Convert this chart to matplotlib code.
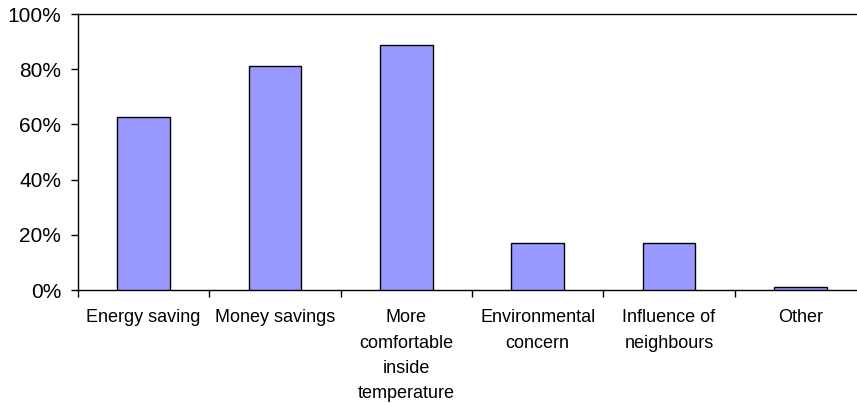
import matplotlib
matplotlib.use("Agg")
import matplotlib.pyplot as plt
import numpy as np
from matplotlib.ticker import PercentFormatter, FixedLocator

categories = ["Energy saving", "Money savings", "More\ncomfortable\ninside\ntemperature",
              "Environmental\nconcern", "Influence of\nneighbours", "Other"]
values = [0.626, 0.813, 0.888, 0.171, 0.171, 0.011]
yticks = [0, 0.2, 0.4, 0.6, 0.8, 1.0]

plt.rcParams['font.family'] = ['Liberation Sans', 'DejaVu Sans']

fig = plt.figure(figsize=(8.57, 4.03), dpi=100)
ax = fig.add_axes([78/857, 1-290/403, 788/857, 276/403])

x = np.arange(len(categories))
ax.bar(x, values, width=0.40, color='#9999FF', edgecolor='black', linewidth=1.0, zorder=3)

ax.set_xlim(-0.5, len(categories) - 0.5)
ax.set_ylim(0, 1.0)
ax.set_yticks(yticks)
ax.yaxis.set_major_formatter(PercentFormatter(1.0, decimals=0))

ax.set_xticks(x)
ax.set_xticklabels(categories, fontsize=13, linespacing=1.62, va='top', ha='center')
ax.xaxis.set_minor_locator(FixedLocator(np.arange(-0.5, len(categories), 1.0)))
ax.tick_params(axis='x', which='major', length=0, pad=14)
ax.tick_params(axis='x', which='minor', length=5, width=1, direction='out')
ax.tick_params(axis='y', length=5, width=1, direction='out', labelsize=15, pad=7)

for s in ['left', 'bottom', 'top']:
    ax.spines[s].set_linewidth(1.0)
ax.spines['right'].set_visible(False)

fig.savefig("out.png", dpi=100)
